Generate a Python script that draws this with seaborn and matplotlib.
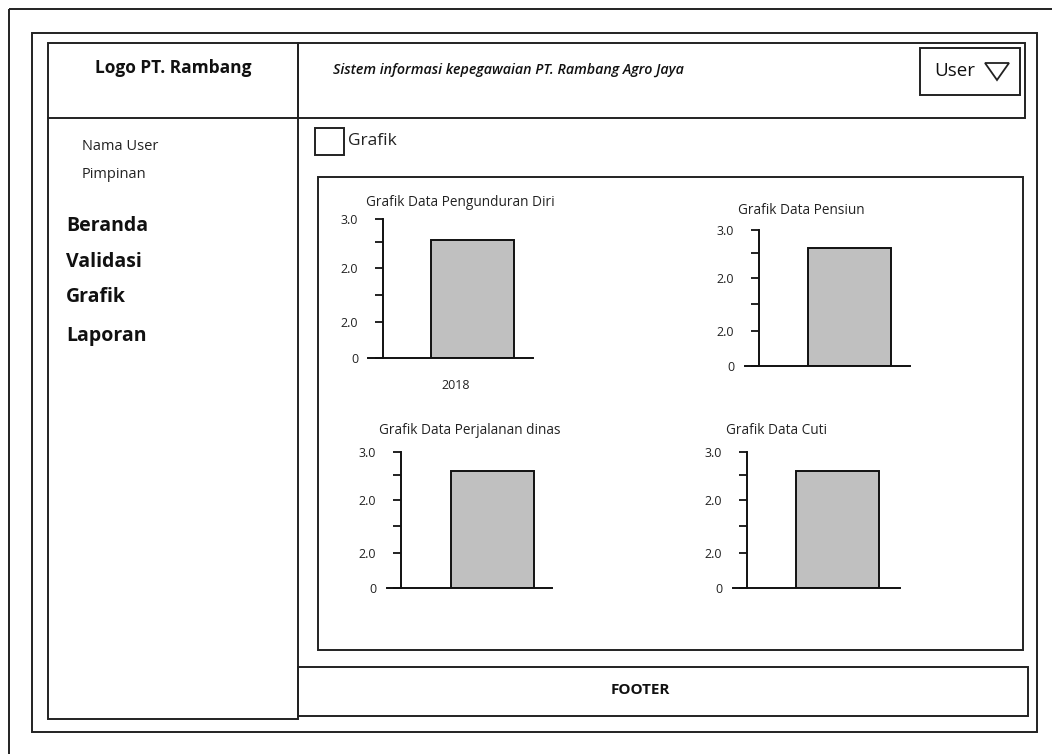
import matplotlib
matplotlib.use("Agg")
import matplotlib.pyplot as plt
import matplotlib.patches as mpatches
import matplotlib.transforms as mtrans
import seaborn as sns
import pandas as pd

# ---------------- data ----------------
chart_titles = ["Grafik Data Pengunduran Diri", "Grafik Data Pensiun",
                "Grafik Data Perjalanan dinas", "Grafik Data Cuti"]
years = ["2018"]
values = [2.55, 2.60, 2.58, 2.58]
ytick_values = [0, 0.78, 1.36, 1.94, 2.50, 3.0]
ytick_labels = ["0", "2.0", "", "2.0", "", "3.0"]
show_year_label = [True, False, False, False]
menu_items = ["Beranda", "Validasi", "Grafik", "Laporan"]
user_info = ["Nama User", "Pimpinan"]
header_title = "Sistem informasi kepegawaian PT. Rambang Agro Jaya"
logo_text = "Logo PT. Rambang"

# ---------------- style ----------------
sns.set_theme(style="white")
plt.rcParams['font.family'] = ['Open Sans', 'DejaVu Sans']

W, H = 1052, 754
fig = plt.figure(figsize=(W / 100, H / 100), dpi=100)
bg = fig.add_axes([0, 0, 1, 1], zorder=0)
bg.set_xlim(0, W)
bg.set_ylim(H, 0)
bg.axis('off')

LINE = '#222222'


def rect(x0, y0, x1, y1, lw=1.4):
    bg.add_patch(mpatches.Rectangle((x0, y0), x1 - x0, y1 - y0, fill=False,
                                    lw=lw, ec=LINE))


rect(9, 9, 1070, 780)          # outer frame (cut by image edge)
rect(32, 33, 1037, 732)        # page frame
rect(48, 43, 298, 719)         # sidebar
bg.plot([48, 298], [118, 118], color=LINE, lw=1.4)
rect(298, 43, 1025, 118)       # header
rect(920, 48, 1020, 95)        # user box
rect(318, 177, 1023, 650)      # chart panel
rect(298, 667, 1028, 716)      # footer
rect(315, 128, 344, 155)       # checkbox
bg.add_patch(mpatches.Polygon([(985, 63), (1009, 63), (997, 80)], closed=True,
                              fill=False, ec=LINE, lw=1.3))

bg.text(173, 68, logo_text, ha='center', va='center', fontsize=12.5,
        fontweight='bold', color='#111')
bg.text(333, 70, header_title, ha='left', va='center', fontsize=10.3,
        fontstyle='italic', fontweight='semibold', color='#111')
bg.text(934, 71, "User", ha='left', va='center', fontsize=13.5, color='#111')
for i, t in enumerate(user_info):
    bg.text(82, 147 + 28 * i, t, ha='left', va='center', fontsize=10.5,
            color='#222')
menu_y = [226, 262, 297, 336]
for t, y in zip(menu_items, menu_y):
    bg.text(66, y, t, ha='left', va='center', fontsize=14, fontweight='bold',
            color='#111')
bg.text(348, 141, "Grafik", ha='left', va='center', fontsize=12.5, color='#222')
bg.text(640, 690, "FOOTER", ha='center', va='center', fontsize=11,
        fontweight='bold', color='#111')

# chart layout in pixels: x-axis left, x-axis right, y-axis x, top, bottom,
# bar left, bar right, title centre x, title y
layout = [
    (368, 533, 383, 219, 358, 431, 514, 460, 202),
    (745, 910, 759, 230, 366, 808, 891, 801, 211),
    (387, 552, 401, 452, 588, 451, 534, 470, 431),
    (733, 900, 747, 452, 588, 796, 879, 777, 431),
]

BAR_W = 0.8
for title, val, show_lab, lay in zip(chart_titles, values, show_year_label, layout):
    xl, xr, yx, top, bot, bl, br, tcx, ty = lay
    ax = fig.add_axes([xl / W, (H - bot) / H, (xr - xl) / W, (bot - top) / H],
                      zorder=2)
    ax.patch.set_alpha(0)
    df = pd.DataFrame({"year": years, "value": [val]})
    sns.barplot(data=df, x="year", y="value", ax=ax, color="#c0c0c0",
                edgecolor="#111111", linewidth=1.4, width=BAR_W,
                saturation=1)
    unit = (br - bl) / BAR_W
    cx = (bl + br) / 2
    ax.set_xlim((xl - cx) / unit, (xr - cx) / unit)
    ax.set_ylim(0, 3.0)
    ax.spines['left'].set_position(('data', (yx - cx) / unit))
    for s in ['top', 'right']:
        ax.spines[s].set_visible(False)
    for s in ['left', 'bottom']:
        ax.spines[s].set_color('#111')
        ax.spines[s].set_linewidth(1.4)
    ax.set_yticks(ytick_values)
    ax.set_yticklabels(ytick_labels)
    ax.tick_params(axis='y', left=True, length=6, width=1.3, color='#111',
                   pad=12, labelsize=9, labelcolor='#222')
    ax.set_xlabel("")
    ax.set_ylabel("")
    ax.set_xticks([0])
    if show_lab:
        ax.set_xticklabels(years)
        ax.tick_params(axis='x', bottom=False, pad=9, labelsize=9,
                       labelcolor='#222')
        off = mtrans.ScaledTranslation(-17 / 100, 0, fig.dpi_scale_trans)
        for lab in ax.get_xticklabels():
            lab.set_transform(lab.get_transform() + off)
    else:
        ax.set_xticklabels([""])
        ax.tick_params(axis='x', bottom=False)
    bg.text(tcx, ty, title, ha='center', va='center', fontsize=9.8,
            color='#222')

fig.savefig("out.png", dpi=100, facecolor='white')
